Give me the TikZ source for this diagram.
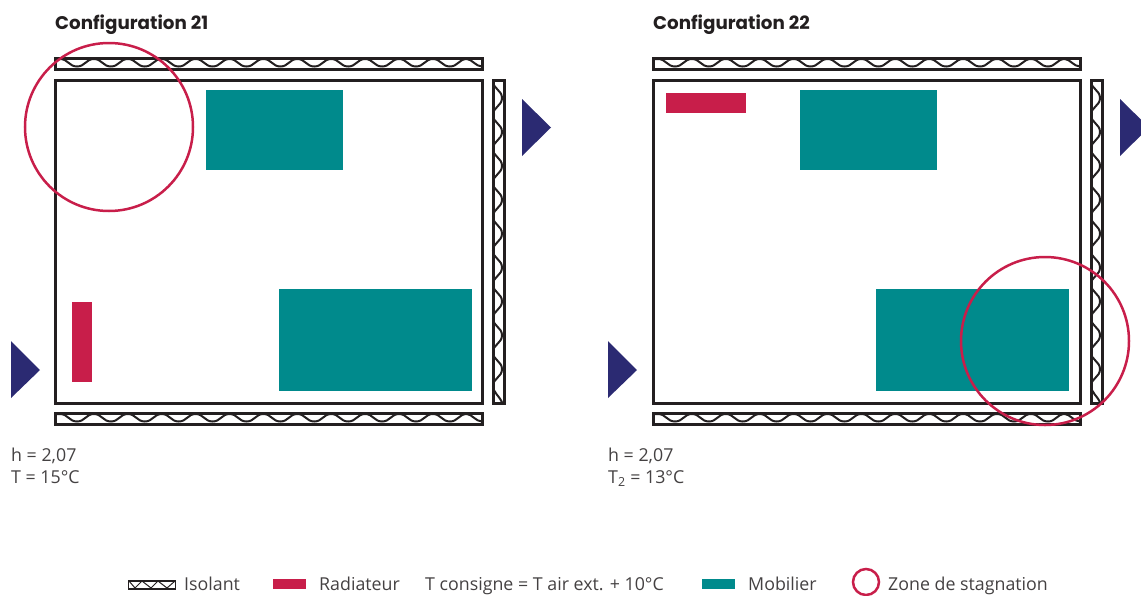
\documentclass[tikz,border=0pt]{standalone}
\usepackage{fontspec}
\setmainfont{Open Sans}
\newfontfamily\headfont{Poppins}
\definecolor{ink}{HTML}{231F20}
\definecolor{teal1}{HTML}{008A8C}
\definecolor{crim}{HTML}{C81E4A}
\definecolor{navy}{HTML}{2B2A72}
% horizontal insulation wave: x-left, y-top, height
\newcommand{\hwave}[3]{%
  \draw[wavy] (#1,#2) -- ({#1+5},#2)
  \foreach \i in {0,...,11} {
    .. controls ({#1+5+\i*33.9+8},#2) and ({#1+5+\i*33.9+9},{#2-#3}) .. ({#1+5+\i*33.9+17},{#2-#3})
    .. controls ({#1+5+\i*33.9+25},{#2-#3}) and ({#1+5+\i*33.9+26},#2) .. ({#1+5+\i*33.9+33.9},#2)
  } .. controls ({#1+5+12*33.9+5},#2) and ({#1+5+12*33.9+9},{#2-#3}) .. ({#1+427},{#2-#3});}
% vertical insulation wave: x-right, y-top, width
\newcommand{\vwave}[3]{%
  \draw[wavy] ({#1-#3},#2)
  \foreach \i in {0,...,8} {
    .. controls ({#1-#3},{#2-\i*33.9-8}) and (#1,{#2-\i*33.9-9}) .. (#1,{#2-\i*33.9-17})
    .. controls (#1,{#2-\i*33.9-25}) and ({#1-#3},{#2-\i*33.9-26}) .. ({#1-#3},{#2-(\i+1)*33.9})
  } .. controls ({#1-#3},{#2-9*33.9-6}) and ({#1-2},{#2-9*33.9-11}) .. (#1,{#2-9*33.9-16});}
\tikzset{
  x=1pt,y=1pt,
  wall/.style={draw=ink,line width=3pt},
  wavy/.style={draw=ink,line width=2pt},
  furn/.style={fill=teal1,draw=none},
  radi/.style={fill=crim,draw=none},
  zone/.style={draw=crim,line width=2.5pt},
  arrowtri/.style={fill=navy,draw=none},
  txt/.style={font=\fontsize{17.8}{21}\selectfont,text=ink!85,inner sep=0pt,anchor=base west},
  head/.style={font=\headfont\bfseries\fontsize{18.3}{20}\selectfont,text=ink,inner sep=0pt,anchor=base west},
}
\begin{document}
\begin{tikzpicture}
\useasboundingbox (0,0) rectangle (1141,-595);
\clip (0,0) rectangle (1141,-595);
% Configuration 21
\node[head] (t1) at (55,-29) {Configuration 21};
\hwave{55}{-59}{7.5}
\hwave{55}{-414}{7.5}
\vwave{502}{-81}{9}
\draw[wall] (55,-58) rectangle (482,-69);
\draw[wall] (55,-413) rectangle (482,-424);
\draw[wall] (493,-80) rectangle (504,-403);
\draw[wall] (55,-80) rectangle (482,-403);
\fill[furn] (206,-90) rectangle (343,-170);
\fill[furn] (279,-289) rectangle (472,-391);
\fill[radi] (72,-302) rectangle (92,-382);
\draw[zone] (109,-127) circle (84);
\fill[arrowtri] (522,-99) -- (551,-127.5) -- (522,-156) -- cycle;
\fill[arrowtri] (11,-341) -- (40,-370) -- (11,-398) -- cycle;
\node[txt] (h1) at (11,-461) {h = 2,07};
\node[txt] (c1) at (11,-483) {T = 15°C};
% Configuration 22
\node[head] (t2) at (653,-29) {Configuration 22};
\hwave{653}{-59}{7.5}
\hwave{653}{-414}{7.5}
\vwave{1100}{-81}{9}
\draw[wall] (653,-58) rectangle (1080,-69);
\draw[wall] (653,-413) rectangle (1080,-424);
\draw[wall] (1091,-80) rectangle (1102,-403);
\draw[wall] (653,-80) rectangle (1080,-403);
\fill[furn] (800,-90) rectangle (937,-170);
\fill[furn] (876,-289) rectangle (1069,-391);
\fill[radi] (666,-93) rectangle (746,-113);
\draw[zone] (1045,-341) circle (84);
\fill[arrowtri] (1120,-99) -- (1149,-127.5) -- (1120,-156) -- cycle;
\fill[arrowtri] (608,-341) -- (637,-370) -- (608,-398) -- cycle;
\node[txt] (h2) at (608,-461) {h = 2,07};
\node[txt] (c2) at (608,-483) {T\textsubscript{2} = 13°C};
% Legend
\draw[draw=ink,line width=1pt] (129,-581) -- (135,-588) -- (142,-581) -- (151,-588) -- (158,-581) -- (167,-588) -- (175,-581);
\draw[draw=ink,line width=1.5pt] (128.5,-581) rectangle (175.5,-589);
\fill[radi] (273,-579) rectangle (306,-589);
\node[txt] (l1) at (184,-590) {Isolant};
\node[txt] (l2) at (319,-590) {Radiateur};
\node[txt] (l3) at (425,-590) {T consigne = T air ext. + 10°C};
\fill[furn] (702,-579) rectangle (735,-589);
\node[txt] (l4) at (748,-590) {Mobilier};
\draw[zone] (866,-582) circle (13);
\node[txt] (l5) at (888,-590) {Zone de stagnation};
\end{tikzpicture}
\end{document}
